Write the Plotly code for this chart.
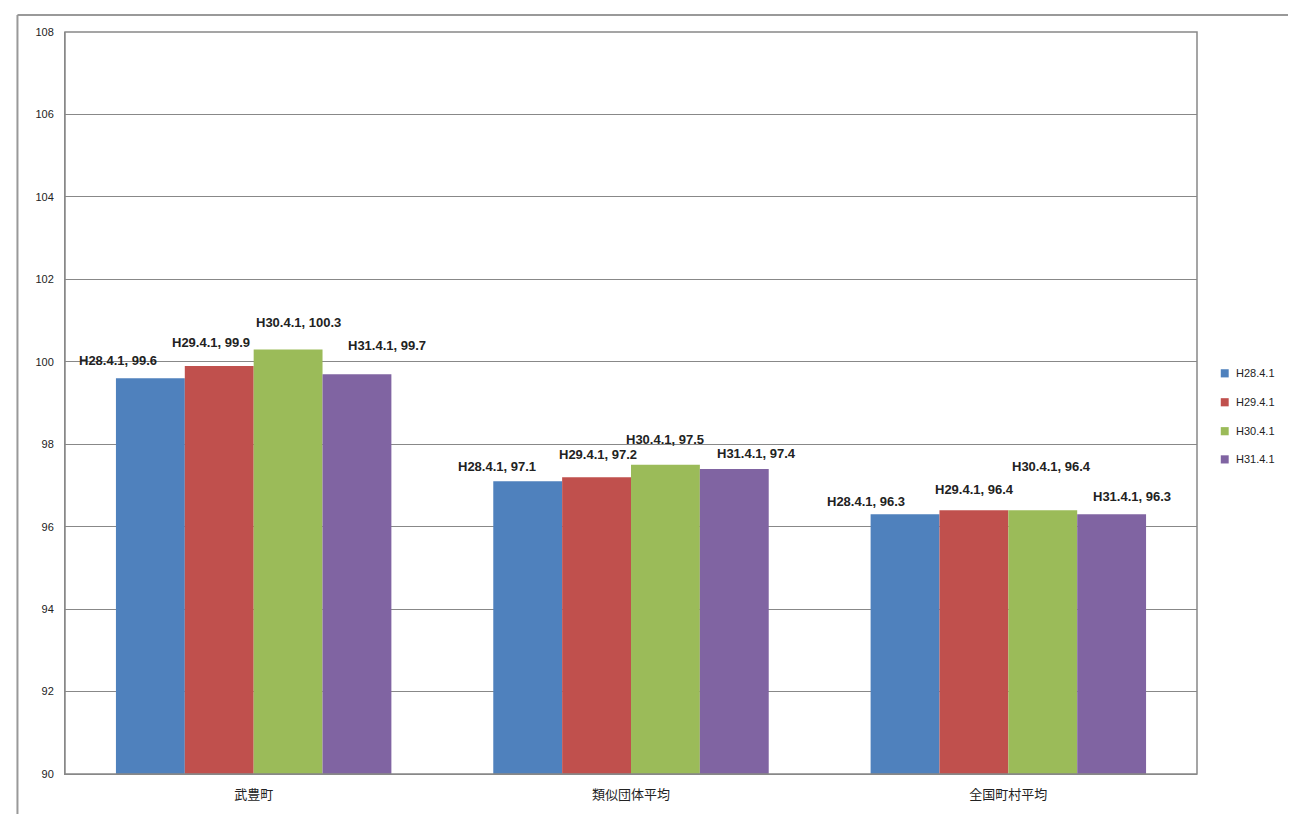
import plotly.graph_objects as go

categories = ["武豊町", "類似団体平均", "全国町村平均"]
series = ["H28.4.1", "H29.4.1", "H30.4.1", "H31.4.1"]
values = [
    [99.6, 97.1, 96.3],
    [99.9, 97.2, 96.4],
    [100.3, 97.5, 96.4],
    [99.7, 97.4, 96.3],
]
colors = ["#4F81BD", "#C0504D", "#9BBB59", "#8064A2"]

lab_dx = [[-32, -31, -39], [-8, 1, 1], [10, 0, 9], [30, 22, 20]]
lab_dy = [[18, 15, 13], [23, 23, 21], [27, 25, 44], [29, 15, 18]]

fig = go.Figure()
for i, s in enumerate(series):
    fig.add_trace(go.Bar(name=s, x=categories, y=values[i], marker_color=colors[i],
                         marker_line_width=0, showlegend=False))

plot_w = 1132
cat_w = plot_w / 3
bargap = 0.27
bar_w = cat_w * (1 - bargap) / 4
ann = []
for i, s in enumerate(series):
    for j, c in enumerate(categories):
        off = (i - 1.5) * bar_w
        ann.append(dict(x=c, y=values[i][j], xref="x", yref="y",
                        text=f"<b>{s}, {values[i][j]}</b>",
                        showarrow=False, xshift=off + lab_dx[i][j], yshift=lab_dy[i][j],
                        font=dict(size=13, color="#222", family="Liberation Sans"),
                        yanchor="middle"))

shapes = [dict(type="rect", xref="paper", yref="paper", x0=0, x1=1, y0=0, y1=1,
               line=dict(color="#888", width=1.5)),
          dict(type="line", xref="paper", yref="paper", x0=-0.042, x1=1.09, y0=1.023, y1=1.023,
               line=dict(color="#999", width=2)),
          dict(type="line", xref="paper", yref="paper", x0=-0.042, x1=-0.042, y0=-0.06, y1=1.023,
               line=dict(color="#999", width=2))]

# manual legend (keeps plot area fixed)
leg_y = [0.540, 0.501, 0.462, 0.424]
for i, s in enumerate(series):
    shapes.append(dict(type="rect", xref="paper", yref="paper", x0=1.021, x1=1.028,
                       y0=leg_y[i] - 0.0055, y1=leg_y[i] + 0.0055,
                       fillcolor=colors[i], line_width=0))
    ann.append(dict(x=1.033, y=leg_y[i], xref="paper", yref="paper", text=s, showarrow=False,
                    xanchor="left", yanchor="middle", font=dict(size=11, color="#222")))

fig.update_layout(
    width=1296, height=814, barmode="group", bargap=bargap, bargroupgap=0,
    margin=dict(l=57, r=107, t=24, b=48),
    plot_bgcolor="white", paper_bgcolor="white",
    font=dict(family="Liberation Sans, Noto Sans CJK JP", size=12, color="#222"),
    xaxis=dict(showgrid=False, showline=True, linecolor="#888", ticks="", tickfont=dict(size=13),
               ticklabelstandoff=8),
    yaxis=dict(range=[90, 108], dtick=2, showgrid=True, gridcolor="#888", gridwidth=1,
               showline=True, linecolor="#888", ticks="", tickfont=dict(size=11), zeroline=False,
               ticklabelstandoff=8),
    annotations=ann,
    shapes=shapes,
)
fig.write_html("out.html")
